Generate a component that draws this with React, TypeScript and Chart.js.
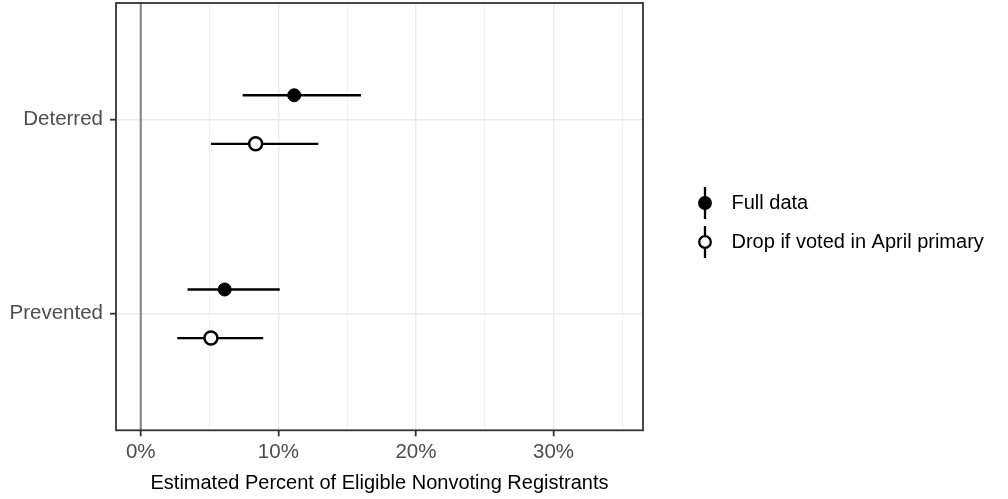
import React, { useEffect, useRef } from "react";
import { Chart, registerables } from "chart.js";
Chart.register(...registerables);

const categories = ["Deterred", "Prevented"];
const seriesNames = ["Full data", "Drop if voted in April primary"];
const fullEst = [11.15, 6.1];
const fullLow = [7.4, 3.4];
const fullHigh = [16.0, 10.1];
const dropEst = [8.35, 5.1];
const dropLow = [5.1, 2.65];
const dropHigh = [12.9, 8.9];
const xTickValues = [0, 5, 10, 15, 20, 25, 30, 35];
const xTitle = "Estimated Percent of Eligible Nonvoting Registrants";

const FONT = "'Liberation Sans', Arial, Helvetica, sans-serif";
const DODGE = 0.125;

const errorBarPlugin = {
  id: "errorBars",
  beforeDatasetsDraw(chart: any) {
    const { ctx, scales, chartArea } = chart;
    const x = scales.x;
    const y = scales.y;
    ctx.save();
    ctx.beginPath();
    ctx.rect(chartArea.left, chartArea.top, chartArea.right - chartArea.left, chartArea.bottom - chartArea.top);
    ctx.clip();
    ctx.strokeStyle = "#8a8a8a";
    ctx.lineWidth = 2.2;
    const x0 = x.getPixelForValue(0);
    ctx.beginPath();
    ctx.moveTo(x0, chartArea.top);
    ctx.lineTo(x0, chartArea.bottom);
    ctx.stroke();
    chart.data.datasets.forEach((ds: any) => {
      ctx.strokeStyle = "#000";
      ctx.lineWidth = 2.3;
      ds.data.forEach((p: any, i: number) => {
        const py = y.getPixelForValue(p.y);
        ctx.beginPath();
        ctx.moveTo(x.getPixelForValue(ds.low[i]), py);
        ctx.lineTo(x.getPixelForValue(ds.high[i]), py);
        ctx.stroke();
      });
    });
    ctx.restore();
  },
  afterDraw(chart: any) {
    const { ctx, chartArea } = chart;
    ctx.save();
    ctx.strokeStyle = "#333333";
    ctx.lineWidth = 1.8;
    ctx.strokeRect(chartArea.left, chartArea.top, chartArea.right - chartArea.left, chartArea.bottom - chartArea.top);
    // axis title
    ctx.fillStyle = "#000";
    ctx.font = `20px ${FONT}`;
    ctx.textAlign = "center";
    ctx.textBaseline = "alphabetic";
    ctx.fillText(xTitle, (chartArea.left + chartArea.right) / 2, 488.5);
    // legend
    const lx = 705;
    const ys = [203, 242];
    chart.data.datasets.forEach((ds: any, i: number) => {
      const cy = ys[i];
      ctx.strokeStyle = "#000";
      ctx.lineWidth = 2.3;
      ctx.beginPath();
      ctx.moveTo(lx, cy - 16);
      ctx.lineTo(lx, cy + 16);
      ctx.stroke();
      ctx.beginPath();
      ctx.arc(lx, cy, 5.8, 0, Math.PI * 2);
      ctx.fillStyle = ds.pointBackgroundColor;
      ctx.fill();
      ctx.lineWidth = 2.3;
      ctx.stroke();
      ctx.fillStyle = "#000";
      ctx.font = `20px ${FONT}`;
      ctx.textBaseline = "middle";
      ctx.textAlign = "left";
      ctx.fillText(ds.label, 731.5, cy);
    });
    ctx.restore();
  },
};

export default function App() {
  const ref = useRef<HTMLCanvasElement>(null);
  useEffect(() => {
    if (!ref.current) return;
    const mk = (est: number[], off: number) => est.map((v, i) => ({ x: v, y: i + 1 + off }));
    const chart = new Chart(ref.current, {
      type: "scatter",
      data: {
        datasets: [
          {
            label: seriesNames[0],
            data: mk(fullEst, -DODGE),
            low: fullLow,
            high: fullHigh,
            pointRadius: 6.5,
            pointBackgroundColor: "#000",
            pointBorderColor: "#000",
            pointBorderWidth: 1,
          } as any,
          {
            label: seriesNames[1],
            data: mk(dropEst, DODGE),
            low: dropLow,
            high: dropHigh,
            pointRadius: 6.5,
            pointBackgroundColor: "#fff",
            pointBorderColor: "#000",
            pointBorderWidth: 2.5,
          } as any,
        ],
      },
      options: {
        animation: false,
        responsive: false,
        layout: { autoPadding: false, padding: { top: 3, right: 365, left: 0, bottom: 0 } },
        plugins: { legend: { display: false }, tooltip: { enabled: false } },
        scales: {
          x: {
            type: "linear",
            min: -1.8,
            max: 36.5,
            afterBuildTicks: (axis: any) => {
              axis.ticks = xTickValues.map((v) => ({ value: v }));
            },
            afterFit: (axis: any) => {
              axis.height = 68.7;
              axis.paddingLeft = 0;
              axis.paddingRight = 0;
            },
            border: { display: false },
            grid: {
              color: "#ebebeb",
              lineWidth: (c: any) => (c.tick && c.tick.value % 10 === 0 ? 1.4 : 0.7),
              tickColor: (c: any) => (c.tick && c.tick.value % 10 === 0 ? "#333333" : "rgba(0,0,0,0)"),
              tickLength: 6,
              tickWidth: 1.8,
            },
            ticks: {
              autoSkip: false,
              maxRotation: 0,
              color: "#4d4d4d",
              font: { family: FONT, size: 20.5 },
              padding: 3.6,
              callback: (v: any) => (Number(v) % 10 === 0 ? `${v}%` : ""),
            },
            title: { display: false },
          },
          y: {
            type: "linear",
            reverse: true,
            min: 0.4,
            max: 2.6,
            afterBuildTicks: (axis: any) => {
              axis.ticks = categories.map((_, i) => ({ value: i + 1 }));
            },
            afterFit: (axis: any) => {
              axis.width = 116;
              axis.paddingTop = 0;
              axis.paddingBottom = 0;
            },
            border: { display: false },
            grid: {
              color: "#ebebeb",
              lineWidth: 1.4,
              tickColor: "#333333",
              tickLength: 6,
              tickWidth: 1.8,
            },
            ticks: {
              color: "#4d4d4d",
              font: { family: FONT, size: 20.5 },
              padding: 7,
              callback: (v: any) => categories[Number(v) - 1] ?? "",
            },
          },
        },
      },
      plugins: [errorBarPlugin],
    } as any);
    return () => chart.destroy();
  }, []);
  return (
    <div style={{ position: "fixed", left: 0, top: 0, width: 1008, height: 499, background: "#fff" }}>
      <canvas ref={ref} width={1008} height={499} style={{ display: "block" }} />
    </div>
  );
}
